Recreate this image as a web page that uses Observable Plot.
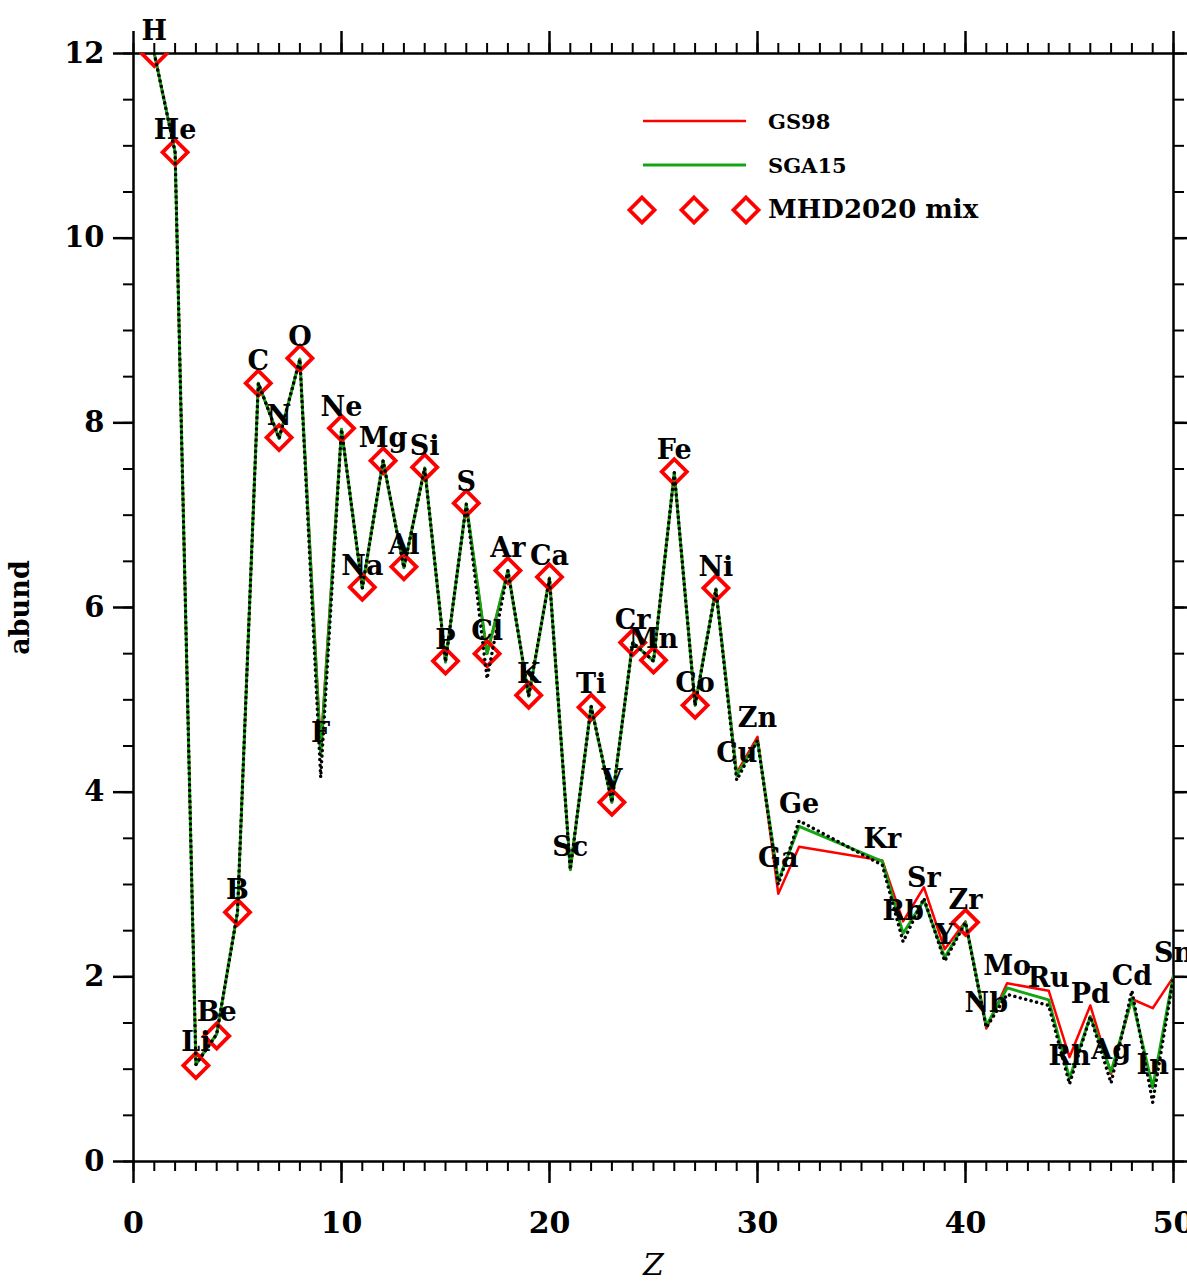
<!DOCTYPE html>
<html>
<head>
<meta charset="utf-8">
<script src="https://cdn.jsdelivr.net/npm/d3@7"></script>
<script src="https://cdn.jsdelivr.net/npm/@observablehq/plot@0.6"></script>
<style>
  html, body { margin: 0; padding: 0; background: #fff; }
  #wrap { position: relative; width: 1187px; height: 1287px; overflow: hidden; }
  #legend { position: absolute; left: 0; top: 0; pointer-events: none; }
  text { font-family: "DejaVu Serif", serif; }
</style>
</head>
<body>
<div id="wrap"></div>
<script>
// ---- data ----
const zs = [1,2,3,4,5,6,7,8,9,10,11,12,13,14,15,16,17,18,19,20,21,22,23,24,25,26,27,28,29,30,31,32,36,37,38,39,40,41,42,44,45,46,47,48,49,50];
const elements = ["H","He","Li","Be","B","C","N","O","F","Ne","Na","Mg","Al","Si","P","S","Cl","Ar","K","Ca","Sc","Ti","V","Cr","Mn","Fe","Co","Ni","Cu","Zn","Ga","Ge","Kr","Rb","Sr","Y","Zr","Nb","Mo","Ru","Rh","Pd","Ag","Cd","In","Sn"];
const gs98 = [12.00,10.93,1.07,1.38,2.70,8.43,7.83,8.69,4.48,7.93,6.21,7.59,6.43,7.51,5.41,7.12,5.50,6.40,5.04,6.32,3.16,4.93,3.89,5.62,5.42,7.46,4.94,6.20,4.21,4.60,2.90,3.41,3.26,2.60,2.97,2.30,2.60,1.44,1.93,1.85,1.13,1.69,0.95,1.76,1.66,2.00];
const sga15 = [12.00,10.93,1.05,1.38,2.70,8.43,7.83,8.69,4.40,7.93,6.21,7.59,6.43,7.51,5.41,7.12,5.50,6.40,5.04,6.32,3.16,4.93,3.89,5.62,5.42,7.46,4.94,6.20,4.18,4.56,3.04,3.63,3.25,2.47,2.83,2.21,2.59,1.47,1.88,1.75,0.90,1.57,0.97,1.77,0.80,2.02];
const dottedMix = [12.00,10.93,1.05,1.38,2.70,8.43,7.83,8.69,4.16,7.93,6.21,7.59,6.43,7.51,5.41,7.12,5.23,6.40,5.04,6.32,3.16,4.93,3.89,5.62,5.42,7.46,4.94,6.20,4.13,4.56,3.00,3.69,3.21,2.38,2.85,2.17,2.59,1.45,1.81,1.69,0.84,1.57,0.85,1.85,0.64,2.00];
const mhdZ = [1,2,3,4,5,6,7,8,10,11,12,13,14,15,16,17,18,19,20,22,23,24,25,26,27,28,40];
const mhd2020 = [12.00,10.93,1.04,1.36,2.70,8.43,7.84,8.70,7.94,6.22,7.59,6.44,7.52,5.42,7.13,5.50,6.40,5.05,6.33,4.92,3.89,5.62,5.43,7.47,4.94,6.21,2.59];
const xMajorTicks = [0,10,20,30,40,50];
const yMajorTicks = [0,2,4,6,8,10,12];
const xMinorTicks = d3.range(0, 51, 1);
const yMinorTicks = d3.range(0, 12.01, 0.5);
const seriesNames = ["GS98","SGA15","MHD2020 mix"];

// ---- tables ----
const rows = zs.map((z, i) => ({z, el: elements[i], gs: gs98[i], sga: sga15[i], dot: dottedMix[i]}));
const mhdRows = mhdZ.map((z, i) => ({z, v: mhd2020[i]}));

const RED = "#ff0000", GREEN = "#14a514";
const noText = () => "";

const chart = Plot.plot({
  width: 1187,
  height: 1287,
  marginLeft: 133,
  marginRight: 14,
  marginTop: 53,
  marginBottom: 126,
  x: {domain: [0, 50]},
  y: {domain: [0, 12]},
  style: {fontFamily: "DejaVu Serif", fontWeight: "bold", color: "black", background: "white"},
  marks: [
    // minor ticks
    Plot.axisX(xMinorTicks, {anchor: "bottom", tickSize: 10, tickFormat: noText, label: null, strokeWidth: 2}),
    Plot.axisX(xMinorTicks, {anchor: "top", tickSize: 11, tickFormat: noText, label: null, strokeWidth: 2}),
    Plot.axisY(yMinorTicks, {anchor: "left", tickSize: 10, tickFormat: noText, label: null, strokeWidth: 2}),
    Plot.axisY(yMinorTicks, {anchor: "right", tickSize: 10, tickFormat: noText, label: null, strokeWidth: 2}),
    // major ticks
    Plot.axisX(xMajorTicks, {anchor: "bottom", tickSize: 22, tickPadding: 28, fontSize: 30, label: null, strokeWidth: 2.5, tickFormat: d => String(d)}),
    Plot.axisX(xMajorTicks, {anchor: "top", tickSize: 23, tickFormat: noText, label: null, strokeWidth: 2.5}),
    Plot.axisY(yMajorTicks, {anchor: "left", tickSize: 20, tickPadding: 9, fontSize: 29, label: null, strokeWidth: 2.5, tickFormat: d => String(d)}),
    Plot.axisY(yMajorTicks, {anchor: "right", tickSize: 20, tickFormat: noText, label: null, strokeWidth: 2.5}),
    Plot.frame({stroke: "black", strokeWidth: 2.5}),
    // series
    Plot.line(rows, {x: "z", y: "gs", stroke: RED, strokeWidth: 2.5, clip: true}),
    Plot.line(rows, {x: "z", y: "sga", stroke: GREEN, strokeWidth: 3, clip: true}),
    Plot.dot(mhdRows, {x: "z", y: "v", symbol: "diamond2", r: 11.3, stroke: RED, strokeWidth: 3.8, fill: "none", clip: true}),
    Plot.line(rows, {x: "z", y: "dot", stroke: "black", strokeWidth: 3.4, strokeDasharray: "0.1 5.5", strokeLinecap: "round", clip: true}),
    // element labels
    Plot.text(rows, {x: "z", y: "sga", text: "el", dy: -22, fontSize: 27, fontWeight: "bold", fill: "black"}),
    // axis titles
    Plot.text(["abund"], {frameAnchor: "left", textAnchor: "middle", rotate: -90, dx: -113, fontSize: 27, fontWeight: "bold", fill: "black"}),
    Plot.text(["Z"], {frameAnchor: "bottom", dy: 113, fontSize: 30, fontStyle: "italic", fontWeight: "normal", fill: "black"})
  ]
});

const wrap = document.getElementById("wrap");
wrap.appendChild(chart);

// ---- legend (inside the plot area, top) ----
const ns = "http://www.w3.org/2000/svg";
const leg = document.createElementNS(ns, "svg");
leg.setAttribute("id", "legend");
leg.setAttribute("width", 1187);
leg.setAttribute("height", 260);
function el(tag, attrs, text) {
  const e = document.createElementNS(ns, tag);
  for (const k in attrs) e.setAttribute(k, attrs[k]);
  if (text) e.textContent = text;
  leg.appendChild(e);
  return e;
}
el("line", {x1: 643, x2: 746, y1: 121, y2: 121, stroke: RED, "stroke-width": 2.5});
el("line", {x1: 643, x2: 746, y1: 165, y2: 165, stroke: GREEN, "stroke-width": 3});
[642, 694, 746].forEach(cx => {
  el("path", {d: `M${cx},${210-12.5}L${cx+12.5},210L${cx},${210+12.5}L${cx-12.5},210Z`, fill: "none", stroke: RED, "stroke-width": 3.8});
});
el("text", {x: 768, y: 121, "dominant-baseline": "central", "font-size": 21, "font-weight": "bold", fill: "black"}, seriesNames[0]);
el("text", {x: 768, y: 165, "dominant-baseline": "central", "font-size": 21, "font-weight": "bold", fill: "black"}, seriesNames[1]);
el("text", {x: 768, y: 209, "dominant-baseline": "central", "font-size": 26, "font-weight": "bold", fill: "black"}, seriesNames[2]);
wrap.appendChild(leg);
</script>
</body>
</html>
